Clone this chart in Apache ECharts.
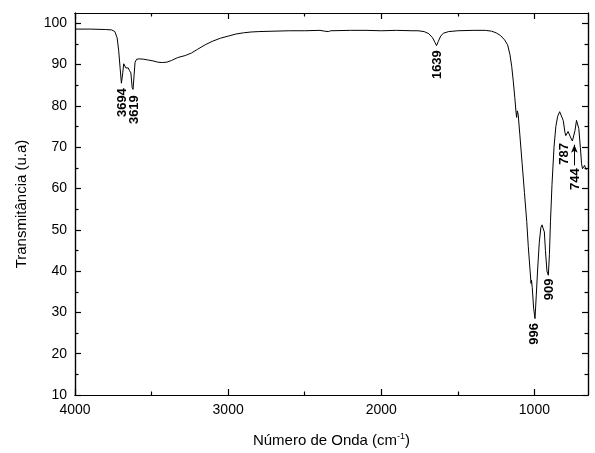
<!DOCTYPE html>
<html>
<head>
<meta charset="utf-8">
<script src="https://cdn.jsdelivr.net/npm/echarts@6/dist/echarts.min.js"></script>
<style>
  html, body { margin: 0; padding: 0; background: #fff; }
  #chart { width: 595px; height: 453px; }
</style>
</head>
<body>
<div id="chart"></div>
<script>
// espectro FTIR: [numero de onda, transmitancia]
const spectrum = [
  [4000, 98.6], [3900, 98.6], [3800, 98.5], [3760, 98.4], [3740, 98.0],
  [3725, 96.5], [3715, 93.5], [3705, 89.0], [3697, 85.5], [3694, 85.3],
  [3688, 88.0], [3682, 90.2], [3675, 90.0], [3668, 89.2], [3660, 88.8],
  [3652, 89.2], [3645, 88.6], [3635, 88.0], [3627, 84.5], [3621, 84.0],
  [3615, 87.0], [3608, 90.5], [3598, 91.3], [3580, 91.4], [3550, 91.3],
  [3520, 91.1], [3490, 90.9], [3460, 90.6], [3430, 90.5], [3400, 90.6],
  [3370, 91.0], [3330, 91.7], [3280, 92.2], [3240, 92.8], [3200, 93.7],
  [3150, 94.8], [3100, 95.7], [3050, 96.4], [3000, 96.9], [2950, 97.4],
  [2900, 97.7], [2850, 97.9], [2800, 98.0], [2700, 98.1], [2600, 98.2],
  [2500, 98.2], [2400, 98.3], [2370, 98.1], [2346, 98.0], [2330, 98.2],
  [2200, 98.3], [2100, 98.3], [2000, 98.2], [1900, 98.3], [1800, 98.2],
  [1760, 98.2], [1720, 98.0], [1690, 97.5], [1665, 96.5], [1650, 95.4],
  [1639, 94.6], [1628, 95.6], [1612, 96.9], [1595, 97.6], [1560, 98.0],
  [1500, 98.2], [1400, 98.3], [1320, 98.3], [1280, 98.1], [1250, 97.7],
  [1220, 97.0], [1195, 96.0], [1175, 94.8], [1160, 92.5], [1148, 89.5],
  [1138, 86.0], [1128, 82.0], [1120, 78.5], [1116, 77.2], [1112, 78.8],
  [1106, 78.0], [1095, 73.0], [1080, 66.0], [1065, 59.0], [1050, 52.0],
  [1040, 46.0], [1030, 41.0], [1022, 37.0], [1019, 37.8], [1014, 36.0],
  [1005, 31.0], [996, 28.5], [988, 34.0], [978, 41.0], [968, 47.0],
  [958, 50.5], [950, 51.2], [942, 50.2], [935, 49.5], [928, 45.0],
  [918, 40.0], [909, 39.0], [902, 44.0], [895, 52.0], [885, 61.0],
  [872, 70.0], [860, 75.0], [848, 77.5], [835, 78.6], [822, 78.2],
  [812, 76.5], [800, 73.5], [795, 72.8], [787, 72.4], [780, 73.8],
  [775, 73.6], [765, 72.5], [752, 71.5], [747, 71.4], [735, 74.0],
  [725, 76.5], [718, 76.8], [710, 74.5], [700, 70.0], [692, 66.0],
  [686, 64.8], [680, 65.2], [672, 65.6], [665, 64.8], [660, 64.5]
];

// picos marcados
const peakNames = ['3694', '3619', '1639', '996', '909', '787', '744'];
const peakLabelX = [3693, 3614, 1634, 998, 905, 804, 732];
const peakLabelY = [84.3, 82.6, 93.5, 27.4, 38.2, 71.0, 64.9];

// ticks
const xMajor = [1000, 2000, 3000, 4000];
const xMinor = [1500, 2500, 3500];
const yMajor = [10, 20, 30, 40, 50, 60, 70, 80, 90, 100];
const yMinor = [15, 25, 35, 45, 55, 65, 75, 85, 95];

const font = 'Liberation Sans, Arial, sans-serif';
const black = '#000';

const chart = echarts.init(document.getElementById('chart'));

const xBase = {
  type: 'value', min: 650, max: 4000, inverse: true,
  splitLine: { show: false },
  axisLine: { show: true, lineStyle: { color: black, width: 1.2 } }
};
const yBase = {
  type: 'value', min: 10, max: 102.5,
  splitLine: { show: false },
  axisLine: { show: true, lineStyle: { color: black, width: 1.2 } }
};

function xAx(position, ticks, len, labels) {
  return {
    ...xBase,
    position: position,
    axisTick: { inside: true, length: len, customValues: ticks, lineStyle: { color: black, width: 1.2 } },
    axisLabel: labels ? {
      customValues: ticks, color: black, fontSize: 14, fontFamily: font, margin: 8,
      formatter: v => String(v)
    } : { show: false }
  };
}
function yAx(position, ticks, len, labels) {
  return {
    ...yBase,
    position: position,
    axisTick: { inside: true, length: len, customValues: ticks, lineStyle: { color: black, width: 1.2 } },
    axisLabel: labels ? {
      customValues: ticks, color: black, fontSize: 14, fontFamily: font, margin: 8,
      formatter: v => String(v)
    } : { show: false }
  };
}

const xMain = xAx('bottom', xMajor, 6, true);
xMain.name = 'Número de Onda (cm{sup|-1})';
xMain.nameLocation = 'middle';
xMain.nameGap = 37;
xMain.nameTextStyle = {
  color: black, fontSize: 15, fontFamily: font,
  rich: { sup: { fontSize: 9, fontFamily: font, color: black, padding: [0, 0, 8, 0] } }
};

const yMain = yAx('left', yMajor, 6, true);
yMain.name = 'Transmitância (u.a)';
yMain.nameLocation = 'middle';
yMain.nameGap = 46;
yMain.nameTextStyle = { color: black, fontSize: 15, fontFamily: font };

chart.setOption({
  animation: false,
  backgroundColor: '#fff',
  grid: { left: 75, right: 7, top: 13, bottom: 58 },
  xAxis: [
    xMain,
    xAx('bottom', xMinor, 3.5, false),
    xAx('top', xMajor, 6, false),
    xAx('top', xMinor, 3.5, false)
  ],
  yAxis: [
    yMain,
    yAx('left', yMinor, 3.5, false),
    yAx('right', yMajor, 6, false),
    yAx('right', yMinor, 3.5, false)
  ],
  series: [
    {
      type: 'line',
      data: spectrum,
      symbol: 'none',
      lineStyle: { color: black, width: 1 },
      z: 3
    },
    {
      type: 'scatter',
      symbolSize: 0,
      itemStyle: { color: black, opacity: 1 },
      data: peakNames.map((n, i) => ({ name: n, value: [peakLabelX[i], peakLabelY[i]] })),
      label: {
        show: true,
        formatter: '{b}',
        position: [0, 0],
        rotate: 90,
        align: 'right',
        verticalAlign: 'middle',
        color: black,
        opacity: 1,
        textBorderWidth: 0,
        fontSize: 13,
        fontWeight: 'bold',
        fontFamily: font
      },
      markLine: {
        silent: true,
        symbol: ['none', 'arrow'],
        symbolSize: [5, 8],
        lineStyle: { color: black, width: 1, type: 'solid', opacity: 1 },
        label: { show: false },
        data: [[{ coord: [739, 65.6] }, { coord: [739, 70.6] }]]
      }
    }
  ]
});
</script>
</body>
</html>
